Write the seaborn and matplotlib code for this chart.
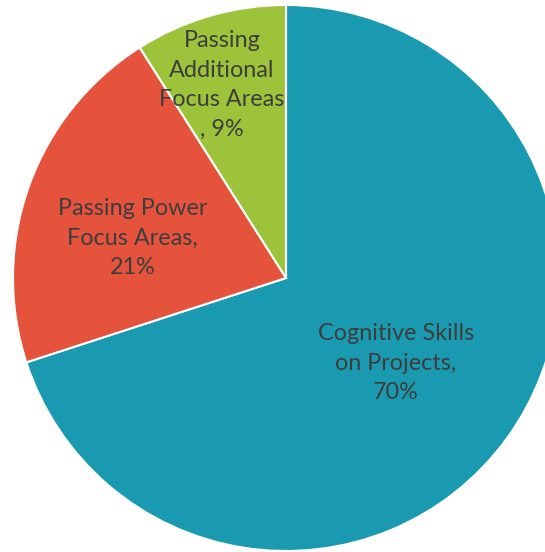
import matplotlib
matplotlib.use("Agg")
import matplotlib.pyplot as plt
import numpy as np
import seaborn as sns

sns.set_theme(style="white")
plt.rcParams["font.family"] = ["Lato", "DejaVu Sans"]

labels = ["Cognitive Skills\non Projects,\n70%",
          "Passing Power\nFocus Areas,\n21%",
          "Passing\nAdditional\nFocus Areas\n, 9%"]
shares = [70, 21, 9]
colors = ["#1a9ab0", "#e5533d", "#9dc33b"]
label_radius = [0.51, 0.58, 0.745]
label_shift = [-1.8, 5.2, 2.1]  # degrees off the wedge middle

fig = plt.figure(figsize=(5.45, 5.52), dpi=100)
ax = fig.add_axes([0, 0, 1, 1])
wedges, _ = ax.pie(shares, colors=colors, startangle=90, counterclock=False,
                   radius=1, wedgeprops=dict(edgecolor="white", linewidth=1.5))

for wedge, text, r, shift in zip(wedges, labels, label_radius, label_shift):
    mid = np.deg2rad((wedge.theta1 + wedge.theta2) / 2 + shift)
    ax.text(r * np.cos(mid), r * np.sin(mid), text, ha="center", va="center",
            fontsize=16.8, color="#3d3d3d", linespacing=1.5)

ax.set_xlim(-286 / 273, 259 / 273)
ax.set_ylim(-274 / 273, 278 / 273)
ax.set_aspect("auto")
ax.axis("off")
fig.savefig("out.png", dpi=100, facecolor="white")
